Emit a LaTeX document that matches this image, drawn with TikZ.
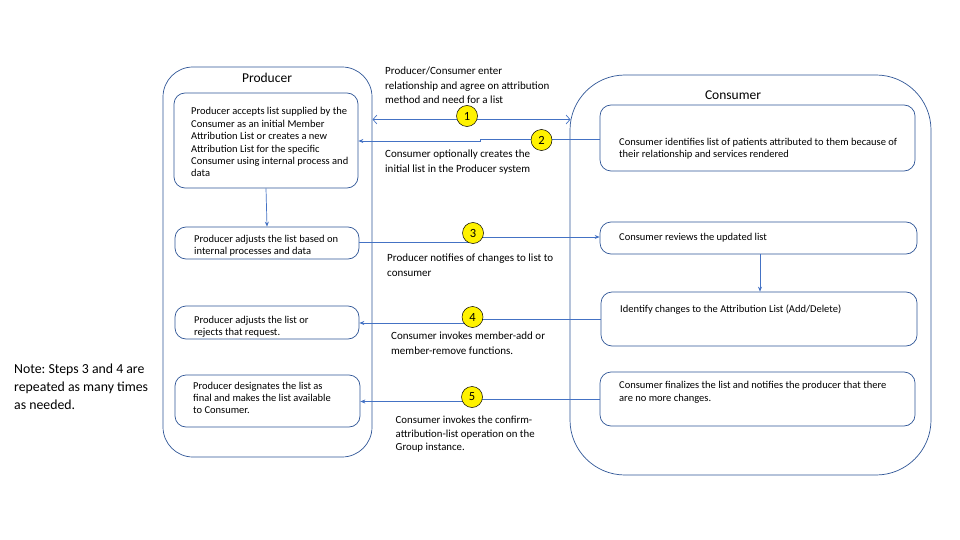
\documentclass[tikz,border=0pt]{standalone}
\usepackage{fontspec}
\setmainfont{Carlito}
\usetikzlibrary{arrows.meta}
\frenchspacing
\definecolor{boxblue}{HTML}{2F5597}
\definecolor{arrblue}{HTML}{4472C4}
\tikzset{
  outerbox/.style={draw=boxblue, line width=0.7pt, inner sep=0pt},
  box/.style={draw=boxblue, line width=0.7pt, rounded corners=11pt, inner sep=0pt},
  txt/.style={inner sep=0pt, anchor=north west, align=left, font=\fontsize{10.5}{12.4}\selectfont},
  small/.style={inner sep=0pt, anchor=north west, align=left, font=\fontsize{10.5}{12.2}\selectfont},
  lbl/.style={inner sep=0pt, anchor=north west, align=left, font=\fontsize{11}{14.5}\selectfont},
  title/.style={inner sep=0pt, font=\fontsize{13.5}{15}\selectfont},
  conn/.style={draw=arrblue, line width=0.7pt},
  arr/.style={conn, -{Stealth[length=5pt,width=4pt]}},
  num/.style={circle, draw=black, line width=0.5pt, fill=yellow, minimum size=21pt, inner sep=0pt, font=\fontsize{12.5}{14}\selectfont}
}
\begin{document}
\begin{tikzpicture}[x=1pt,y=-1pt]
\useasboundingbox[fill=white] (0,0) rectangle (960,540);

% outer containers
\node[outerbox, rounded corners=30pt, minimum width=209pt, minimum height=390pt] (prod) at (267.5,262) {};
\node[outerbox, rounded corners=55pt, minimum width=361pt, minimum height=400pt] (cons) at (750.5,275) {};
\node[title] (prodt) at (267,77.5) {Producer};
\node[title] (const) at (733,95.5) {Consumer};

% producer boxes
\node[box, minimum width=184pt, minimum height=95pt] (p1) at (266,140.5) {};
\node[txt] (p1t) at (191,107.5) {Producer accepts list supplied by the\\Consumer as an initial Member\\Attribution List or creates a new\\Attribution List for the specific\\Consumer using internal process and\\data};
\node[box, minimum width=184pt, minimum height=32pt] (p2) at (267,243) {};
\node[txt] (p2t) at (194,235) {Producer adjusts the list based on\\internal processes and data};
\node[box, minimum width=184pt, minimum height=33pt] (p3) at (267,322.5) {};
\node[txt] (p3t) at (194,316) {Producer adjusts the list or\\rejects that request.};
\node[box, minimum width=185pt, minimum height=52pt] (p4) at (267.5,401) {};
\node[small] (p4t) at (193,382) {Producer designates the list as\\final and makes the list available\\to Consumer.};

% consumer boxes
\node[box, minimum width=315pt, minimum height=66pt] (c1) at (757.5,138) {};
\node[txt] (c1t) at (619,138) {Consumer identifies list of patients attributed to them because of\\their relationship and services rendered};
\node[box, minimum width=317pt, minimum height=32pt] (c2) at (758.5,238) {};
\node[txt] (c2t) at (619,233.5) {Consumer reviews the updated list};
\node[box, minimum width=316pt, minimum height=54pt] (c3) at (759,319) {};
\node[txt] (c3t) at (620,304.5) {Identify changes to the Attribution List (Add/Delete)};
\node[box, minimum width=315pt, minimum height=54pt] (c4) at (757.5,399) {};
\node[txt] (c4t) at (619,381.5) {Consumer finalizes the list and notifies the producer that there\\are no more changes.};

% vertical arrows
\draw[arr] (p1.south) -- (p2.north);
\draw[arr] (c2.south -| 760,0) -- (c3.north -| 760,0);

% step 1
\coordinate (a1l) at (372.5,119.5);
\coordinate (a1r) at (570.5,119.5);
\draw[conn, {Straight Barb[length=4pt,width=9pt]}-{Straight Barb[length=4pt,width=9pt]}] (a1l) -- (a1r);
\node[num] (n1) at (467,116) {1};

% step 2
\draw[arr] (c1.west |- 0,139) -- (480,139) -- (480,141) -- (p1.east |- 0,141);
\node[num] (n2) at (541.5,140) {2};

% step 3
\draw[arr] (p2.east |- 0,242) -- (473,242) -- (473,237) -- (c2.west |- 0,237);
\node[num] (n3) at (473,233) {3};

% step 4
\draw[arr] (c3.west |- 0,319) -- (473,319) -- (473,323) -- (p3.east |- 0,323);
\node[num] (n4) at (472.5,317) {4};

% step 5
\draw[arr] (c4.west |- 0,399) -- (472,399) -- (472,401.5) -- (p4.east |- 0,401.5);
\node[num] (n5) at (472,397) {5};

% labels
\node[lbl] (l1) at (385,67) {Producer/Consumer enter\\relationship and agree on attribution\\method and need for a list};
\node[lbl] (l2) at (385,150) {Consumer optionally creates the\\initial list in the Producer system};
\node[lbl] (l3) at (387,254) {Producer notifies of changes to list to\\consumer};
\node[lbl] (l4) at (391,332) {Consumer invokes member-add or\\member-remove functions.};
\node[lbl, font=\fontsize{10.8}{13.5}\selectfont] (l5) at (395.5,416) {Consumer invokes the confirm-\\attribution-list operation on the\\Group instance.};

% note
\node[inner sep=0pt, anchor=north west, align=left, font=\fontsize{13.8}{17.7}\selectfont] (note) at (14,364) {Note: Steps 3 and 4 are\\repeated as many times\\as needed.};
\end{tikzpicture}
\end{document}
